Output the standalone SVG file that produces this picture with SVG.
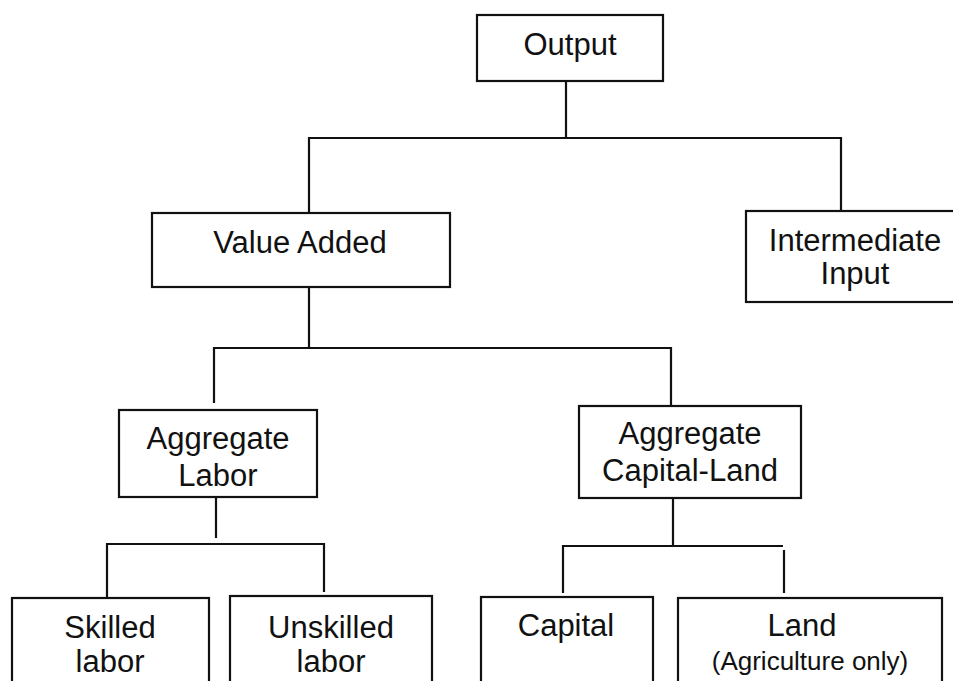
<svg xmlns="http://www.w3.org/2000/svg" width="953" height="681" viewBox="0 0 953 681">
<style>
.box{fill:#fff;stroke:#111;stroke-width:2.2}
.ln{fill:none;stroke:#111;stroke-width:2.2}
text{font-family:"Liberation Sans",Arial,sans-serif;font-size:31px;fill:#111;text-anchor:middle}
.sm{font-size:26px}
</style>
<rect width="953" height="681" fill="#fff"/>
<g id="connectors">
<path class="ln" d="M566,81 V138 M309,213 V138 H841 V211"/>
<path class="ln" d="M309,287 V348 M214,403 V348 H671 V406"/>
<path class="ln" d="M216,497 V538 M107,597 V544 H324 V592"/>
<path class="ln" d="M673,498 V546 M563,593 V546 H783 M784,550 V593"/>
</g>
<g id="output"><rect class="box" x="477" y="15" width="186" height="66"/><text x="570" y="55">Output</text></g>
<g id="value-added"><rect class="box" x="152" y="213" width="298" height="74"/><text x="300" y="253">Value Added</text></g>
<g id="intermediate-input"><rect class="box" x="746" y="211" width="220" height="91"/><text x="855" y="251">Intermediate</text><text x="855" y="284">Input</text></g>
<g id="aggregate-labor"><rect class="box" x="119" y="410" width="198" height="87"/><text x="218" y="449">Aggregate</text><text x="218" y="486">Labor</text></g>
<g id="aggregate-capital-land"><rect class="box" x="579" y="406" width="222" height="92"/><text x="690" y="444">Aggregate</text><text x="690" y="481">Capital-Land</text></g>
<g id="skilled-labor"><rect class="box" x="12" y="598" width="197" height="100"/><text x="110" y="638">Skilled</text><text x="110" y="672">labor</text></g>
<g id="unskilled-labor"><rect class="box" x="230" y="596" width="202" height="100"/><text x="331" y="638">Unskilled</text><text x="331" y="672">labor</text></g>
<g id="capital"><rect class="box" x="481" y="597" width="172" height="100"/><text x="566" y="636">Capital</text></g>
<g id="land"><rect class="box" x="678" y="598" width="264" height="100"/><text x="802" y="636">Land</text><text class="sm" x="810" y="670">(Agriculture only)</text></g>
</svg>
